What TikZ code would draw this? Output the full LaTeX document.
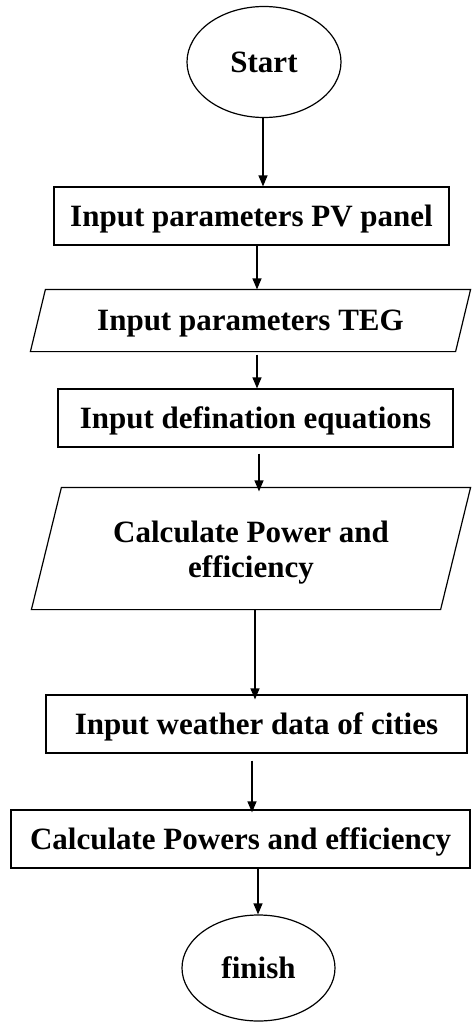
\documentclass[tikz,border=0pt]{standalone}
\usepackage{fontspec}
\setmainfont{Liberation Serif}
\usetikzlibrary{arrows.meta,calc,shapes.geometric}

\tikzset{
  base/.style={font=\fontsize{31}{35}\selectfont\bfseries, line width=1.2pt, inner sep=0pt, align=center},
  capcentred/.style={text height=20.5pt, text depth=0pt},
  terminal/.style={base, capcentred, draw, ellipse},
  procbox/.style={base, capcentred, draw, rectangle},
  iobox/.style={base, rectangle},
  arr/.style={draw, line width=1.2pt, -{Triangle[length=11pt,width=9pt]}},
}

\begin{document}
\begin{tikzpicture}[x=1pt,y=-1pt]
  \useasboundingbox (0,0) rectangle (471,1022);

  % terminals
  \node[terminal, minimum width=154pt, minimum height=111pt] (start) at (264,62) {Start};
  \node[terminal, minimum width=153pt, minimum height=106pt] (finish) at (258.5,968) {finish};

  % process boxes
  \node[procbox, minimum width=395pt, minimum height=58pt] (pv) at (251.5,216) {Input parameters PV panel};
  \node[procbox, minimum width=395pt, minimum height=58pt] (defs) at (255.5,418) {Input defination equations};
  \node[procbox, minimum width=421pt, minimum height=58pt] (weather) at (256.5,724) {Input weather data of cities};
  \node[procbox, minimum width=459pt, minimum height=58pt] (powers) at (240.5,839) {Calculate Powers and efficiency};

  % input/output parallelograms (text node + slanted outline)
  \node[iobox, capcentred, minimum width=439pt, minimum height=61pt] (teg) at (250.5,320.5) {Input parameters TEG};
  \draw[line width=1.2pt] ([xshift=15pt]teg.north west) -- (teg.north east)
        -- ([xshift=-15pt]teg.south east) -- (teg.south west) -- cycle;

  \node[iobox, minimum width=438pt, minimum height=121pt] (calc) at (251,548.5) {\rule{0pt}{30pt}Calculate Power and\\efficiency};
  \draw[line width=1.2pt] ([xshift=30pt]calc.north west) -- (calc.north east)
        -- ([xshift=-30pt]calc.south east) -- (calc.south west) -- cycle;

  % connectors
  \draw[arr] ([xshift=-1pt]start.south) -- ([xshift=-1pt]start.south |- pv.north);
  \draw[arr] ([xshift=5.5pt]pv.south) -- ([xshift=5.5pt]pv.south |- teg.north);
  \draw[arr] ([xshift=6.5pt,yshift=-3pt]teg.south) -- ([xshift=6.5pt]teg.south |- defs.north);
  \draw[arr] ([xshift=3.5pt,yshift=-6pt]defs.south) -- ([xshift=3.5pt,yshift=-4pt]defs.south |- calc.north);
  \draw[arr] ([xshift=4pt]calc.south) -- ([xshift=4pt,yshift=-5pt]calc.south |- weather.north);
  \draw[arr] ([xshift=-4.5pt,yshift=-7pt]weather.south) -- ([xshift=-4.5pt,yshift=-3pt]weather.south |- powers.north);
  \draw[arr] ([xshift=17.5pt]powers.south) -- ([xshift=17.5pt]powers.south |- finish.north);
\end{tikzpicture}
\end{document}
